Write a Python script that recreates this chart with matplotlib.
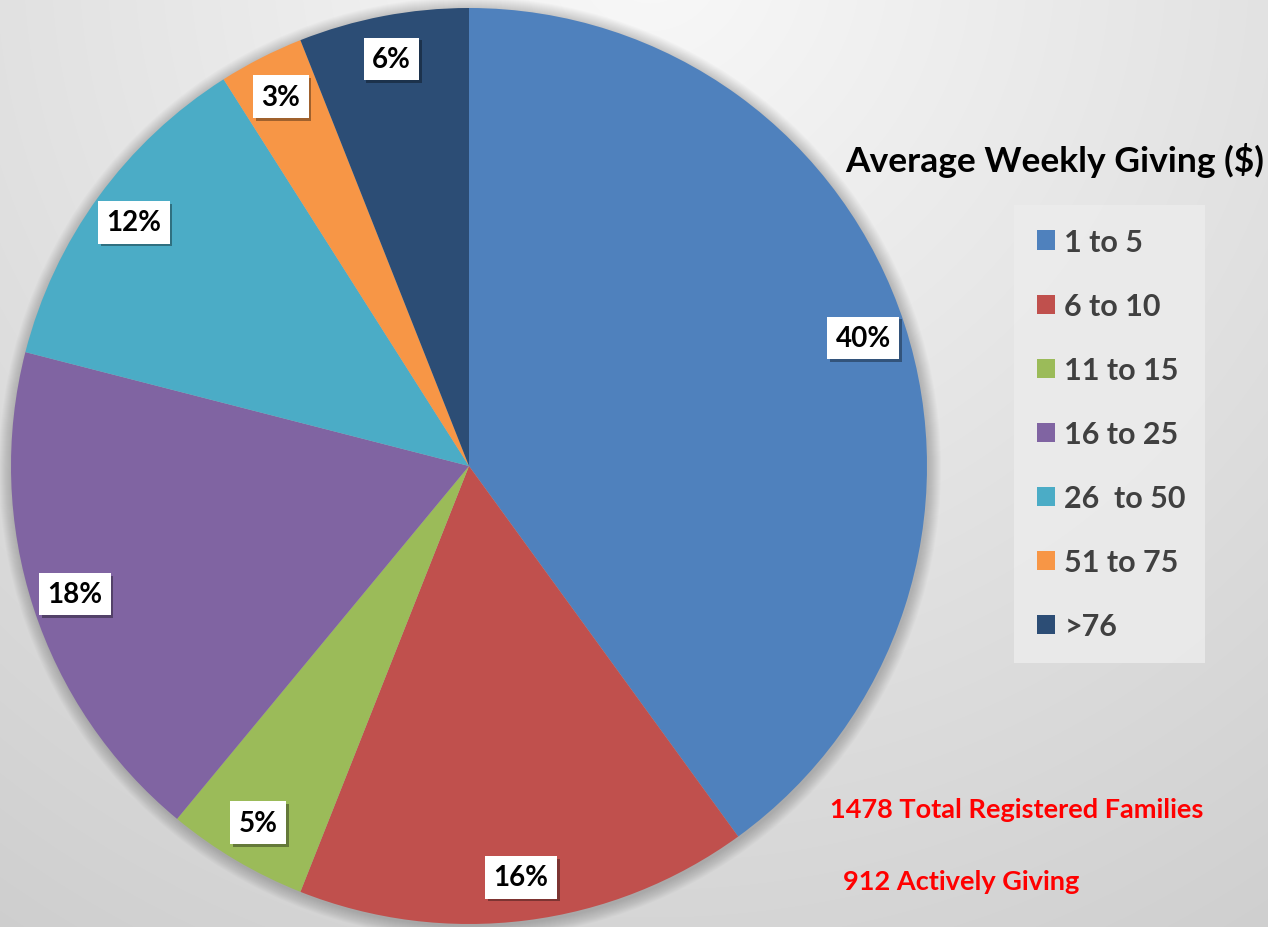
import numpy as np
import matplotlib
matplotlib.use("Agg")
import matplotlib.pyplot as plt
from matplotlib.patches import Circle
import matplotlib.patheffects as pe

# data
categories = ["1 to 5", "6 to 10", "11 to 15", "16 to 25", "26  to 50", "51 to 75", ">76"]
shares = [40, 16, 5, 18, 12, 3, 6]
colors = ["#4f81bd", "#c0504d", "#9bbb59", "#8064a2", "#4bacc6", "#f79646", "#2c4d75"]
title = "Average Weekly Giving ($)"
notes = ["1478 Total Registered Families", "912 Actively Giving"]

W, H = 1268, 928
plt.rcParams["font.family"] = ["Lato", "DejaVu Sans"]

fig = plt.figure(figsize=(W / 100, H / 100), dpi=100)
ax = fig.add_axes([0, 0, 1, 1])

# soft grey radial background
yy, xx = np.mgrid[0:H, 0:W]
d = np.hypot(xx - 650, yy - (H + 40))
bg = np.clip(0.975 - 0.16 * d / 1130, 0, 1)
ax.imshow(np.dstack([bg, bg, bg]), extent=(0, W, 0, H), origin="lower", zorder=0)

cx, cy, R = 469, H - 467, 458

# faint shadow round the pie
for k in range(1, 14):
    ax.add_patch(Circle((cx + 1, cy - 2), R + k, color="black", alpha=0.016, lw=0, zorder=1))

wedges, texts, autotexts = ax.pie(
    shares, colors=colors, startangle=90, counterclock=False,
    center=(cx, cy), radius=R, autopct=lambda p: f"{p:.0f}%", pctdistance=0.905,
    wedgeprops=dict(linewidth=0), textprops=dict(fontsize=20, fontweight="bold", color="black"),
)
for w in wedges:
    w.set_zorder(2)
for t in autotexts:
    t.set_zorder(5)
    t.set_bbox(dict(boxstyle="square,pad=0.3", facecolor="white", edgecolor="none"))
    t.get_bbox_patch().set_path_effects([
        pe.SimplePatchShadow(offset=(2, -2), shadow_rgbFace="black", alpha=0.35), pe.Normal()])

ax.set_xlim(0, W)
ax.set_ylim(0, H)
ax.set_aspect("equal")
ax.axis("off")

ax.text(1055, H - 160, title, fontsize=25.5, fontweight="bold", ha="center", va="center", color="black")

leg = ax.legend(wedges, categories, loc="upper left",
                bbox_to_anchor=(1014 / W, 1 - 206 / H - 0.01, 191 / W, 0.01), mode="expand",
                frameon=True, fancybox=False, borderaxespad=0, borderpad=0.75,
                handlelength=0.6, handleheight=0.6, handletextpad=0.3,
                labelspacing=1.18, prop=dict(size=22, weight="bold"))
leg.get_frame().set_facecolor("#ececec")
leg.get_frame().set_alpha(0.85)
leg.get_frame().set_edgecolor("none")
for t in leg.get_texts():
    t.set_color("#404040")

ax.text(830, H - 810, notes[0], fontsize=19.5, fontweight="bold", color="#ff0000", ha="left", va="center")
ax.text(843, H - 882, notes[1], fontsize=19.5, fontweight="bold", color="#ff0000", ha="left", va="center")

fig.savefig("out.png", dpi=100)
